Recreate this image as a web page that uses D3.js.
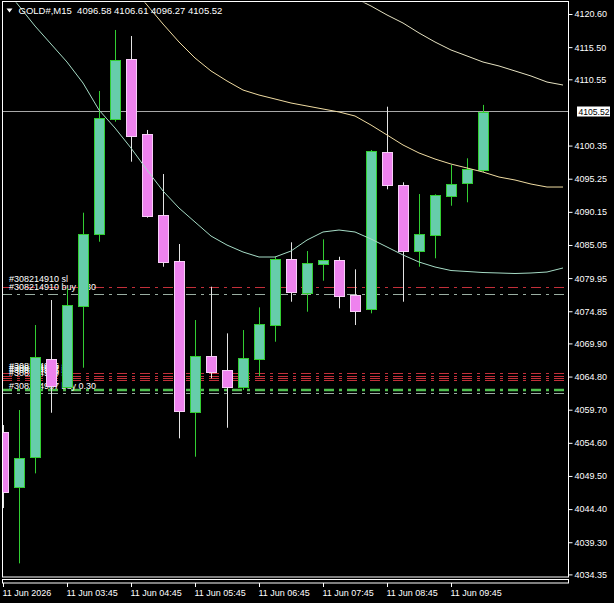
<!DOCTYPE html>
<html><head><meta charset="utf-8">
<script src="https://cdn.jsdelivr.net/npm/d3@7"></script>
<style>
html,body{margin:0;padding:0;background:#000;overflow:hidden}
svg{display:block}
text{font-family:"Liberation Sans",Arial,sans-serif;fill:#fff}
</style></head>
<body>
<svg id="chart" width="614" height="603"></svg>
<script>
// ---- data ----
const symbol = "GOLD#,M15";
const times = ["02:45","03:00","03:15","03:30","03:45","04:00","04:15","04:30","04:45","05:00",
  "05:15","05:30","05:45","06:00","06:15","06:30","06:45","07:00","07:15","07:30",
  "07:45","08:00","08:15","08:30","08:45","09:00","09:15","09:30","09:45","10:00","10:15"];
const opens  = [4056.22,4047.84,4052.46,4067.45,4063.23,4075.70,4086.69,4104.39,4113.63,4102.08,
  4089.62,4082.58,4059.29,4067.96,4065.76,4063.23,4067.54,4072.78,4082.84,4077.70,
  4082.17,4082.69,4077.30,4075.19,4099.31,4094.23,4084.17,4086.63,4092.63,4094.63,4096.58];
const highs  = [4057.34,4059.65,4072.73,4076.58,4078.43,4090.02,4108.75,4118.14,4117.21,4102.75,
  4095.97,4085.20,4073.50,4078.63,4071.45,4071.96,4075.45,4083.24,4085.46,4084.12,
  4085.92,4083.24,4081.30,4099.67,4106.33,4094.70,4092.89,4092.85,4097.36,4098.39,4106.61];
const lows   = [4044.56,4036.05,4049.90,4059.23,4063.03,4066.16,4085.55,4104.02,4097.87,4089.25,
  4081.70,4055.29,4052.46,4064.53,4056.92,4062.73,4064.88,4070.16,4076.32,4074.78,
  4079.55,4075.30,4072.73,4074.53,4093.62,4076.32,4081.70,4083.00,4091.09,4091.62,4096.27];
const closes = [4047.07,4052.21,4067.76,4063.34,4075.81,4086.69,4104.55,4113.47,4101.87,4089.55,
  4082.47,4059.54,4067.96,4065.54,4063.23,4067.61,4072.84,4082.89,4077.76,4082.27,
  4082.69,4077.24,4074.93,4099.51,4094.33,4084.17,4086.69,4092.69,4094.39,4096.74,4105.52];
// moving averages (shifted 5 bars forward, hence 36 slots)
const maFast = [4124.91,4121.83,4118.75,4115.98,4113.21,4109.98,4105.82,4103.05,4099.97,4096.59,
  4093.36,4090.74,4088.58,4086.43,4085.04,4083.97,4083.20,4083.20,4084.12,4085.81,
  4087.05,4087.35,4087.05,4085.97,4084.74,4083.51,4082.43,4081.66,4081.12,4080.97,
  4080.81,4080.74,4080.66,4080.74,4080.89,4081.51];
const maMid = [null,null,null,null,null,null,null,null,4124.91,4121.99,
  4119.06,4116.29,4113.83,4111.83,4110.29,4108.90,4108.13,4107.52,4106.90,4106.44,
  4105.98,4105.52,4104.90,4103.51,4101.98,4100.44,4099.21,4098.28,4097.51,4096.90,
  4096.28,4095.51,4095.05,4094.43,4093.97,4093.97];
const maSlow = [null,null,null,null,null,null,null,null,null,null,
  null,null,null,null,null,null,null,null,null,null,
  null,4124.30,4123.06,4121.83,4120.45,4119.21,4117.68,4116.29,4115.06,4114.14,
  4113.21,4112.60,4111.83,4111.06,4110.13,4109.67];
const priceTicks = [4120.60,4115.50,4110.55,4100.35,4095.25,4090.15,4085.05,4079.95,4074.85,
  4069.90,4064.80,4059.70,4054.60,4049.50,4044.40,4039.30,4034.35];
const timeTickIdx = [0,4,8,12,16,20,24,28];
const timeTickLabels = ["11 Jun 2026","11 Jun 03:45","11 Jun 04:45","11 Jun 05:45",
  "11 Jun 06:45","11 Jun 07:45","11 Jun 08:45","11 Jun 09:45"];
const bid = 4105.52;
const orderLabels = ["#308214910 sl","#308214910 buy 0.30",
  "#308214906 sl","#308214907 sl","#308214908 sl","#308214909 sl",
  "#308214908 buy 0.30","#308214909 buy 0.30","#308214907 buy 0.30"];
const orderPrices = [4078.63,4077.50,4065.30,4064.93,4064.58,4064.22,4062.96,4062.80,4062.22];
const orderKinds  = ["sl","buy","sl","sl","sl","sl","open","open","buy"];

// ---- layout ----
const W = 614, H = 603;
const L = 2, R = 568.5, T = 2, B = 577;
const svg = d3.select("#chart");
svg.append("rect").attr("width",W).attr("height",H).attr("fill","#000");

const x = d3.scaleLinear().domain([0,35]).range([3,563]);
const y = d3.scaleLinear().domain([4034.35,4120.60]).range([574.4,14]);
const px = i => Math.round(x(i)) + 0.5;

svg.append("clipPath").attr("id","plot").append("rect")
  .attr("x",L+0.5).attr("y",T+0.5).attr("width",R-L-1).attr("height",B-T-1);
const plot = svg.append("g").attr("clip-path","url(#plot)");

// bid line
const bidY = Math.round(y(bid))-0.5;
plot.append("line").attr("x1",L).attr("x2",R)
  .attr("y1",bidY).attr("y2",bidY)
  .attr("stroke","#a8a8a8").attr("stroke-width",1);

// order lines
const kindColor = {sl:"#c3303a", buy:"#9aaea2", open:"#4fc04f"};
orderPrices.forEach((p,k)=>{
  const yy = Math.round(y(p))+0.5;
  plot.append("line").attr("x1",L).attr("x2",R).attr("y1",yy).attr("y2",yy)
    .attr("stroke",kindColor[orderKinds[k]])
    .attr("stroke-width",orderKinds[k]==="open"?1.5:1)
    .attr("stroke-dasharray","10,5,3,5");
});
orderPrices.forEach((p,k)=>{
  if(orderKinds[k]==="open") return;
  plot.append("text").attr("x",9).attr("y",y(p)-4.5)
    .attr("font-size","9px").attr("fill","#fff").text(orderLabels[k]);
});

// candles
const idx = d3.range(opens.length);
const cg = plot.append("g");
idx.forEach(i=>{
  const up = closes[i] >= opens[i];
  const cx = px(i);
  cg.append("line").attr("x1",cx).attr("x2",cx)
    .attr("y1",y(highs[i])).attr("y2",y(lows[i]))
    .attr("stroke", up ? "#32cd32" : "#e4e4e4");
  const yt = Math.round(y(Math.max(opens[i],closes[i])))+0.5;
  const yb = Math.round(y(Math.min(opens[i],closes[i])))+0.5;
  cg.append("rect").attr("x",cx-5).attr("width",10)
    .attr("y",yt).attr("height",Math.max(1,yb-yt))
    .attr("fill", up ? "#66cdaa" : "#ee82ee")
    .attr("stroke", up ? "#32cd32" : "#f6cdf6").attr("stroke-width",1);
});

// moving averages
const line = d3.line().defined(d=>d[1]!==null).x(d=>x(d[0])).y(d=>y(d[1])).curve(d3.curveLinear);
[[maFast,"#a6dcc6"],[maMid,"#f0dca2"],[maSlow,"#e6e2c2"]].forEach(([arr,col])=>{
  plot.append("path").datum(arr.map((v,i)=>[i,v]))
    .attr("d",line).attr("fill","none").attr("stroke",col).attr("stroke-width",1);
});

// frame
svg.append("rect").attr("x",L+0.5).attr("y",T-0.5).attr("width",R-L-0.5).attr("height",B-T+0.5)
  .attr("fill","none").attr("stroke","#fff");
svg.append("rect").attr("x",L+0.5).attr("y",579.5).attr("width",R-L-0.5).attr("height",3.5)
  .attr("fill","none").attr("stroke","#fff");

// price axis
const ya = svg.append("g").attr("transform",`translate(${R},0)`)
  .call(d3.axisRight(y).tickValues(priceTicks).tickSize(4).tickPadding(2)
    .tickFormat(d=>d.toFixed(2)));
ya.select(".domain").remove();
ya.selectAll(".tick line").attr("stroke","#fff");
ya.selectAll(".tick text").attr("fill","#fff").attr("font-size","9px")
  .attr("font-family","Liberation Sans, Arial, sans-serif");

// current price label
svg.append("rect").attr("x",577).attr("y",bidY-5).attr("width",33).attr("height",10).attr("fill","#fff");
svg.append("text").attr("x",578.5).attr("y",bidY+3.3).attr("font-size","8.6px")
  .style("fill","#000").text(bid.toFixed(2));

// time axis
const xa = svg.append("g").attr("transform","translate(0,583)")
  .call(d3.axisBottom(x).tickValues(timeTickIdx).tickSize(4).tickPadding(3)
    .tickFormat((d,k)=>timeTickLabels[k]));
xa.select(".domain").remove();
xa.selectAll(".tick").attr("transform",d=>`translate(${px(d)},0)`);
xa.selectAll(".tick line").attr("stroke","#fff");
xa.selectAll(".tick text").attr("fill","#fff").attr("font-size","9px")
  .attr("text-anchor","start").attr("x",-1)
  .attr("font-family","Liberation Sans, Arial, sans-serif");

// header
svg.append("path").attr("d","M6.5,8.5 L12.5,8.5 L9.5,12.5 Z").attr("fill","#fff");
svg.append("text").attr("x",18.5).attr("y",14).attr("font-size","9.5px")
  .style("white-space","pre")
  .text(`${symbol}  ${opens[30].toFixed(2)} ${highs[30].toFixed(2)} ${lows[30].toFixed(2)} ${closes[30].toFixed(2)}`);
</script>
</body></html>
